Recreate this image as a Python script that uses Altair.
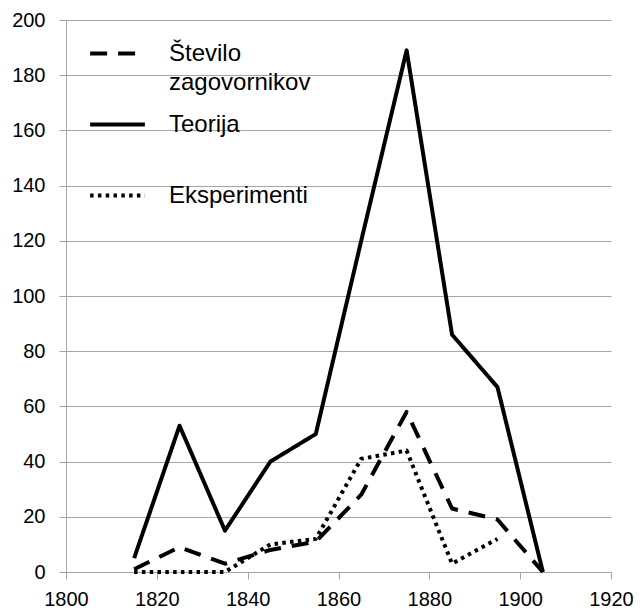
import altair as alt
import pandas as pd

years = [1815, 1825, 1835, 1845, 1855, 1865, 1875, 1885, 1895, 1905]
stevilo = [1, 9, 3, 8, 11, 28, 58, 23, 19, 0]
teorija = [5, 53, 15, 40, 50, 120, 189, 86, 67, 0]
eksperimenti = [0, 0, 0, 10, 12, 41, 44, 3, 12, None]

series_names = ["Število zagovornikov", "Teorija", "Eksperimenti"]
series_values = [stevilo, teorija, eksperimenti]
dashes = [[17, 11], [1, 0], [3.5, 4.3]]

y_ticks = list(range(0, 201, 20))
x_ticks = list(range(1800, 1921, 20))

rows = []
for name, vals in zip(series_names, series_values):
    for yr, v in zip(years, vals):
        if v is not None:
            rows.append({"leto": yr, "vrednost": v, "serija": name})
df = pd.DataFrame(rows)

FONT = "Liberation Sans"
GRID = "#a6a6a6"

label_expr = (
    "datum.label == 'Število zagovornikov' ? ['Število', 'zagovornikov'] "
    ": datum.label == 'Teorija' ? ['Teorija', ''] : datum.label"
)

chart = alt.Chart(df).mark_line(
    stroke="black", strokeWidth=4, strokeJoin="round"
).encode(
    x=alt.X(
        "leto:Q",
        scale=alt.Scale(domain=[1800, 1920], nice=False, zero=False),
        axis=alt.Axis(
            values=x_ticks, format="d", title=None, grid=False, labelFlush=False,
            domainColor=GRID, tickColor=GRID, tickSize=7, labelPadding=10,
            labelFont=FONT, labelFontSize=20, labelColor="black",
        ),
    ),
    y=alt.Y(
        "vrednost:Q",
        scale=alt.Scale(domain=[0, 200], nice=False),
        axis=alt.Axis(
            values=y_ticks, title=None, grid=True, gridColor=GRID, gridWidth=1.2,
            domainColor=GRID, tickColor=GRID, tickSize=7, labelPadding=14,
            labelFont=FONT, labelFontSize=20, labelColor="black", labelFlush=False,
        ),
    ),
    strokeDash=alt.StrokeDash(
        "serija:N",
        scale=alt.Scale(domain=series_names, range=dashes),
        sort=series_names,
        legend=alt.Legend(
            title=None, orient="none", legendX=22, legendY=4, padding=0,
            symbolType="stroke", symbolSize=3000, symbolStrokeWidth=4,
            symbolStrokeColor="black",
            labelFont=FONT, labelFontSize=24, labelColor="black", labelLimit=0,
            labelOffset=22, rowPadding=-2,
            labelExpr=label_expr,
        ),
    ),
    order="leto:Q",
).properties(
    width=545, height=552,
    padding={"left": 58, "top": 12, "right": 22, "bottom": 38},
    autosize=alt.AutoSizeParams(type="none"),
).configure(
    style={"guide-label": {"lineHeight": 29}}
).configure_view(stroke=None)

chart.save("out.html", embed_options={"renderer": "svg", "actions": False})
